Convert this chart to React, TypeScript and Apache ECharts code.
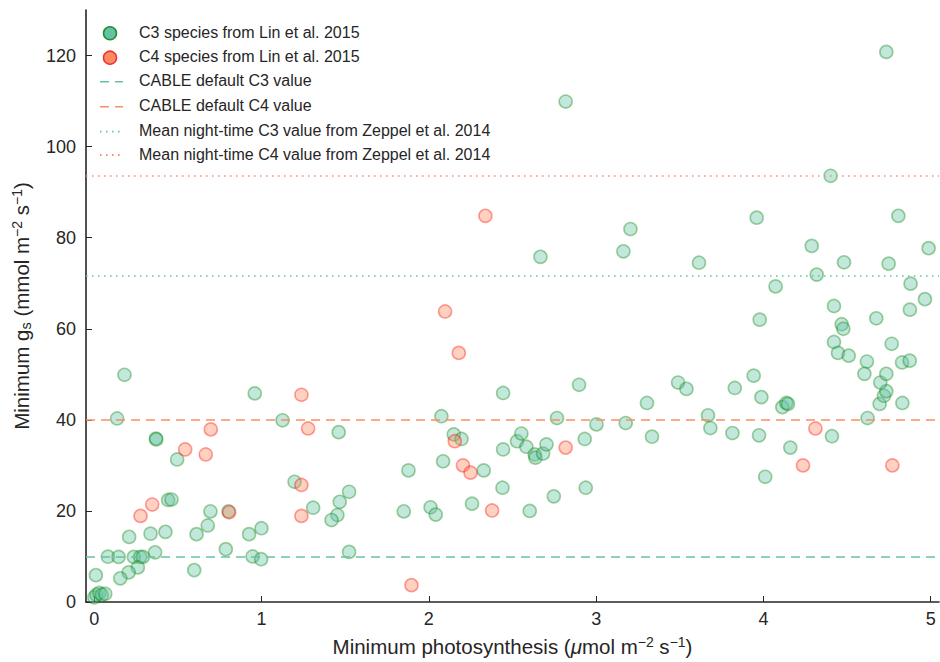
import React, { useEffect, useRef } from "react";
import * as echarts from "echarts";

// ---- data ----
const c3X = [
  0.18, 0.136, 0.959, 1.125, 0.368, 0.37, 0.495, 0.441, 0.461, 0.694, 0.802, 1.197, 1.308,
  0.208, 0.336, 0.425, 0.363, 0.611, 0.678, 0.925, 0.999, 0.786, 0.946, 0.997, 0.081, 0.145,
  0.236, 0.274, 0.29, 0.26, 0.205, 0.155, 0.009, 0.597, 0.0, 0.012, 0.03, 0.045, 0.065,
  1.461, 1.523, 1.467, 1.453, 1.418, 1.523, 1.878, 1.85, 2.01, 2.041, 2.075, 2.149, 2.195,
  2.085, 2.328, 2.258, 2.444, 2.444, 2.44, 2.527, 2.553, 2.583, 2.633, 2.637, 2.683, 2.703,
  2.603, 2.747, 2.766, 2.898, 2.932, 2.938, 3.002,
  3.49, 3.54, 3.829, 3.942, 3.988, 4.113, 4.137, 4.147, 3.304, 3.669, 3.683, 3.177, 3.334,
  3.815, 3.974, 4.161, 4.011, 4.41, 4.623, 4.695, 4.721, 4.735, 4.699, 4.831,
  4.735, 2.818, 4.402, 3.96, 3.205, 4.807, 2.667, 3.163, 3.615, 4.289, 4.482, 4.319, 4.749,
  4.988, 4.073, 4.88, 4.966, 3.978, 4.422, 4.675, 4.876, 4.468, 4.478, 4.422, 4.767, 4.446,
  4.51, 4.619, 4.604, 4.829, 4.875, 4.735,
];
const c3Y = [
  49.9, 40.3, 45.8, 39.9, 35.9, 35.7, 31.3, 22.4, 22.5, 19.9, 19.9, 26.4, 20.7,
  14.3, 15.0, 15.4, 10.9, 14.9, 16.8, 14.9, 16.2, 11.6, 10.0, 9.4, 9.95, 9.9,
  9.9, 9.9, 9.9, 7.6, 6.5, 5.2, 5.9, 7.0, 1.0, 1.6, 2.0, 1.6, 1.8,
  37.3, 24.2, 22.0, 19.1, 18.0, 11.0, 28.9, 19.9, 20.8, 19.2, 40.8, 36.8, 35.8,
  30.9, 28.9, 21.6, 45.9, 33.5, 25.1, 35.3, 37.0, 34.1, 32.4, 31.7, 32.6, 34.6,
  20.0, 23.2, 40.4, 47.7, 35.8, 25.1, 39.0,
  48.2, 46.8, 47.0, 49.7, 45.0, 42.8, 43.7, 43.5, 43.7, 41.0, 38.2, 39.3, 36.3,
  37.1, 36.6, 33.9, 27.5, 36.4, 40.4, 43.5, 45.3, 46.3, 48.2, 43.7,
  120.8, 109.9, 93.6, 84.4, 81.9, 84.8, 75.8, 77.0, 74.5, 78.2, 74.6, 71.9, 74.3,
  77.7, 69.3, 69.9, 66.5, 62.0, 65.0, 62.3, 64.2, 61.0, 60.0, 57.1, 56.7, 54.7,
  54.1, 52.8, 50.1, 52.6, 53.0, 50.1,
];
const c4X = [
  1.238, 1.278, 0.696, 0.543, 0.666, 0.346, 0.276, 0.806, 1.238, 1.238, 1.896, 2.155,
  2.204, 2.249, 2.378, 2.818, 4.311, 4.237, 4.771, 2.338, 2.097, 2.179,
];
const c4Y = [
  45.5, 38.1, 37.9, 33.5, 32.4, 21.4, 18.9, 19.7, 25.7, 18.9, 3.7, 35.3,
  30.0, 28.4, 20.1, 33.9, 38.1, 30.0, 30.0, 84.8, 63.8, 54.7,
];
const cableC3 = 10;
const cableC4 = 40;
const zeppelC3 = 71.7;
const zeppelC4 = 93.6;
const xTicks = [0, 1, 2, 3, 4, 5];
const yTicks = [0, 20, 40, 60, 80, 100, 120];
const legendLabels = [
  "C3 species from Lin et al. 2015",
  "C4 species from Lin et al. 2015",
  "CABLE default C3 value",
  "CABLE default C4 value",
  "Mean night-time C3 value from Zeppel et al. 2014",
  "Mean night-time C4 value from Zeppel et al. 2014",
];

const TEAL = "#66c2a5";
const ORANGE = "#fc8d62";
const FONT = "'Liberation Sans', Arial, Helvetica, sans-serif";
const TXT = "#262626";
const DASH = [9, 6];
const DOT = [1.5, 4.5];

export default function App() {
  const ref = useRef<HTMLDivElement>(null);
  useEffect(() => {
    if (!ref.current) return;
    const chart = echarts.init(ref.current, undefined, { renderer: "svg" });

    const hline = (name: string, value: number, color: string, dash: number[]) => ({
      name,
      type: "line",
      data: [],
      z: 1,
      markLine: {
        silent: true,
        symbol: "none",
        label: { show: false },
        lineStyle: { color, width: 1.6, type: dash, opacity: 1 },
        emphasis: { disabled: true },
        data: [{ yAxis: value }],
      },
    });

    const rowY = [33.3, 57.7, 81.7, 106.7, 131.7, 155];
    const legendGraphics: any[] = [];
    legendLabels.forEach((t, i) => {
      legendGraphics.push({
        type: "text",
        left: 139,
        top: rowY[i] - 9,
        style: { text: t, fontSize: 16, fontFamily: FONT, fill: TXT },
      });
    });
    legendGraphics.push(
      { type: "circle", shape: { cx: 110, cy: rowY[0], r: 6.5 }, style: { fill: TEAL, stroke: "#1e8f2a", lineWidth: 1.5 } },
      { type: "circle", shape: { cx: 110, cy: rowY[1], r: 6.5 }, style: { fill: ORANGE, stroke: "#f03030", lineWidth: 1.5 } },
      { type: "line", shape: { x1: 100, y1: rowY[2], x2: 123, y2: rowY[2] }, style: { stroke: TEAL, lineWidth: 1.6, lineDash: DASH } },
      { type: "line", shape: { x1: 100, y1: rowY[3], x2: 123, y2: rowY[3] }, style: { stroke: ORANGE, lineWidth: 1.6, lineDash: DASH } },
      { type: "line", shape: { x1: 100, y1: rowY[4], x2: 123, y2: rowY[4] }, style: { stroke: TEAL, lineWidth: 1.8, lineDash: DOT } },
      { type: "line", shape: { x1: 100, y1: rowY[5], x2: 123, y2: rowY[5] }, style: { stroke: ORANGE, lineWidth: 1.8, lineDash: DOT } }
    );

    const supStyle = { fontSize: 14, fontFamily: FONT, color: TXT, padding: [0, 0, 9, 0] };
    const subStyle = { fontSize: 14.5, fontFamily: FONT, color: TXT, padding: [8, 0, 0, 0] };
    const baseRich = { fontSize: 20.5, fontFamily: FONT, color: TXT };

    chart.setOption({
      animation: false,
      backgroundColor: "#ffffff",
      textStyle: { fontFamily: FONT },
      grid: { left: 86, right: 1, top: 10, bottom: 59, containLabel: false },
      xAxis: {
        type: "value",
        min: -0.05,
        max: 5.05,
        name: "{b|Minimum photosynthesis (}{i|\u03bc}{b|mol m}{sup|\u22122}{b| s}{sup|\u22121}{b|)}",
        nameLocation: "middle",
        nameGap: 33,
        nameTextStyle: {
          rich: { b: baseRich, i: { ...baseRich, fontStyle: "italic" }, sup: supStyle },
        },
        axisLine: { show: true, onZero: false, lineStyle: { color: TXT, width: 1.6 } },
        axisTick: { show: true, inside: true, length: 6, customValues: xTicks, lineStyle: { color: TXT, width: 1 } },
        axisLabel: { customValues: xTicks, fontSize: 18, color: TXT, margin: 8, fontFamily: FONT },
        splitLine: { show: false },
      },
      yAxis: {
        type: "value",
        min: 0,
        max: 130,
        name: "{b|Minimum g}{sub|s}{b| (mmol m}{sup|\u22122}{b| s}{sup|\u22121}{b|)}",
        nameLocation: "middle",
        nameGap: 53,
        nameTextStyle: {
          rich: { b: baseRich, sub: subStyle, sup: supStyle },
        },
        axisLine: { show: true, onZero: false, lineStyle: { color: TXT, width: 1.6 } },
        axisTick: { show: true, inside: true, length: 6, customValues: yTicks, lineStyle: { color: TXT, width: 1 } },
        axisLabel: { customValues: yTicks, fontSize: 18, color: TXT, margin: 10, fontFamily: FONT },
        splitLine: { show: false },
      },
      graphic: legendGraphics,
      series: [
        hline(legendLabels[2], cableC3, TEAL, DASH),
        hline(legendLabels[3], cableC4, ORANGE, DASH),
        hline(legendLabels[4], zeppelC3, TEAL, DOT),
        hline(legendLabels[5], zeppelC4, ORANGE, DOT),
        {
          name: legendLabels[0],
          type: "scatter",
          z: 3,
          symbolSize: 13,
          data: c3X.map((x, i) => [x, c3Y[i]]),
          itemStyle: { color: "rgba(102,194,165,0.5)", borderColor: "rgba(0,128,0,0.45)", borderWidth: 1.6 },
        },
        {
          name: legendLabels[1],
          type: "scatter",
          z: 3,
          symbolSize: 13,
          data: c4X.map((x, i) => [x, c4Y[i]]),
          itemStyle: { color: "rgba(252,141,98,0.5)", borderColor: "rgba(255,0,0,0.45)", borderWidth: 1.6 },
        },
      ],
    });
    return () => chart.dispose();
  }, []);
  return (
    <div
      ref={ref}
      style={{ position: "fixed", left: 0, top: 0, width: 940, height: 662, background: "#fff" }}
    />
  );
}
